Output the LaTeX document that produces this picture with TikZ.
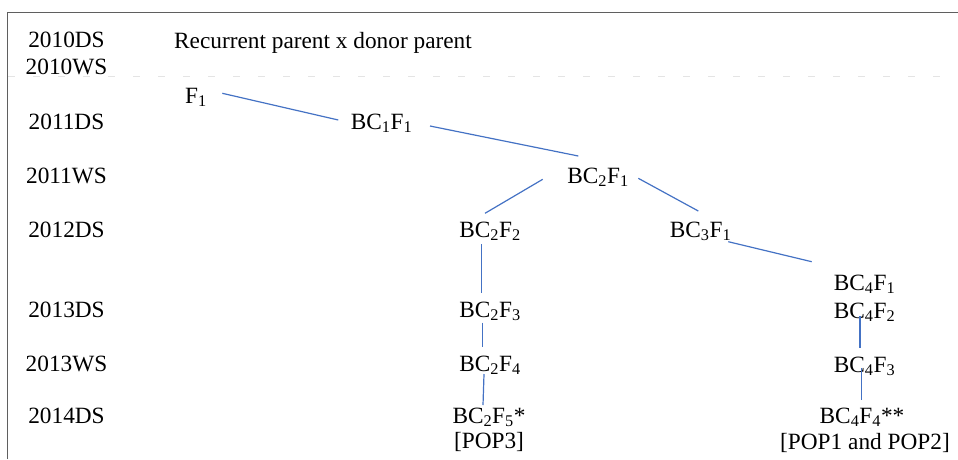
\documentclass[tikz,border=0pt]{standalone}
\usepackage{fontspec}
\setmainfont{Liberation Serif}
\usetikzlibrary{calc}
\definecolor{linkblue}{RGB}{68,114,196}
\definecolor{framegray}{RGB}{95,95,95}
\definecolor{dashgray}{RGB}{228,228,228}
\newcommand{\sbs}[1]{\textsubscript{#1}}
\begin{document}
\begin{tikzpicture}[x=1pt,y=-1pt,
  every node/.style={font=\fontsize{23.3}{28}\selectfont, inner sep=0pt, anchor=base},
  link/.style={draw=linkblue, line width=1.2pt},
  frame/.style={draw=framegray, line width=1.3pt},
  sep/.style={draw=dashgray, line width=1pt, dash pattern=on 7pt off 18pt}]
\useasboundingbox (0,0) rectangle (958,459);
% frame and separator
\coordinate (fbl) at (7.5,459);
\coordinate (ftl) at (7.5,12.5);
\coordinate (ftr) at (958,12.5);
\draw[frame] (fbl) -- (ftl) -- (ftr);
\coordinate (sl) at (8,76);
\coordinate (sr) at (958,76);
\draw[sep] (sl) -- (sr);
% season labels
\node (y1) at (66.5,47) {2010DS};
\node (y2) at (66.5,74) {2010WS};
\node (y3) at (66.5,129) {2011DS};
\node (y4) at (66.5,183) {2011WS};
\node (y5) at (66.5,237) {2012DS};
\node (y6) at (66.5,317) {2013DS};
\node (y7) at (66.5,371) {2013WS};
\node (y8) at (66.5,423) {2014DS};
% title
\node[anchor=base west] (cross) at (174,48) {Recurrent parent x donor parent};
% generations
\node (f1) at (196,103) {F\sbs{1}};
\node (bc1f1) at (381.5,129) {BC\sbs{1}F\sbs{1}};
\node (bc2f1) at (598,183) {BC\sbs{2}F\sbs{1}};
\node (bc2f2) at (490,237) {BC\sbs{2}F\sbs{2}};
\node (bc3f1) at (700.5,237) {BC\sbs{3}F\sbs{1}};
\node (bc2f3) at (490,317) {BC\sbs{2}F\sbs{3}};
\node (bc2f4) at (490,371) {BC\sbs{2}F\sbs{4}};
\node (bc2f5) at (489,423) {BC\sbs{2}F\sbs{5}*};
\node (pop3) at (489,448) {[POP3]};
\node (bc4f1) at (864.5,290) {BC\sbs{4}F\sbs{1}};
\node (bc4f2) at (864.5,318) {BC\sbs{4}F\sbs{2}};
\node (bc4f3) at (864.5,372) {BC\sbs{4}F\sbs{3}};
\node (bc4f4) at (862,423) {BC\sbs{4}F\sbs{4}**};
\node (pop12) at (865,449) {[POP1 and POP2]};
% connectors
\draw[link] ($(f1.base)+(26.3,-9.7)$) -- ($(bc1f1.base)+(-43.2,-9)$);
\draw[link] ($(bc1f1.base)+(48.5,-3)$) -- ($(bc2f1.base)+(-19.7,-27)$);
\draw[link] ($(bc2f1.base)+(-55.3,-3.7)$) -- ($(bc2f2.base)+(-5,-23.7)$);
\draw[link] ($(bc2f1.base)+(40.3,-4.7)$) -- ($(bc3f1.base)+(-2.2,-26)$);
\draw[link] ($(bc2f2.base)+(-8.3,7.3)$) -- ($(bc2f3.base)+(-8.3,-24.3)$);
\draw[link] ($(bc2f3.base)+(-7.3,5.7)$) -- ($(bc2f4.base)+(-7.3,-24.3)$);
\draw[link] ($(bc2f4.base)+(-6,3)$) -- ($(bc2f5.base)+(-6,-18)$);
\draw[link] ($(bc3f1.base)+(27.8,4.7)$) -- ($(bc4f1.base)+(-52.8,-28.3)$);
\draw[link] ($(bc4f2.base)+(-4.5,-2)$) -- ($(bc4f3.base)+(-4.5,-24)$);
\draw[link] ($(bc4f3.base)+(-3.2,-3.7)$) -- ($(bc4f4.base)+(-0.7,-23)$);
\end{tikzpicture}
\end{document}
